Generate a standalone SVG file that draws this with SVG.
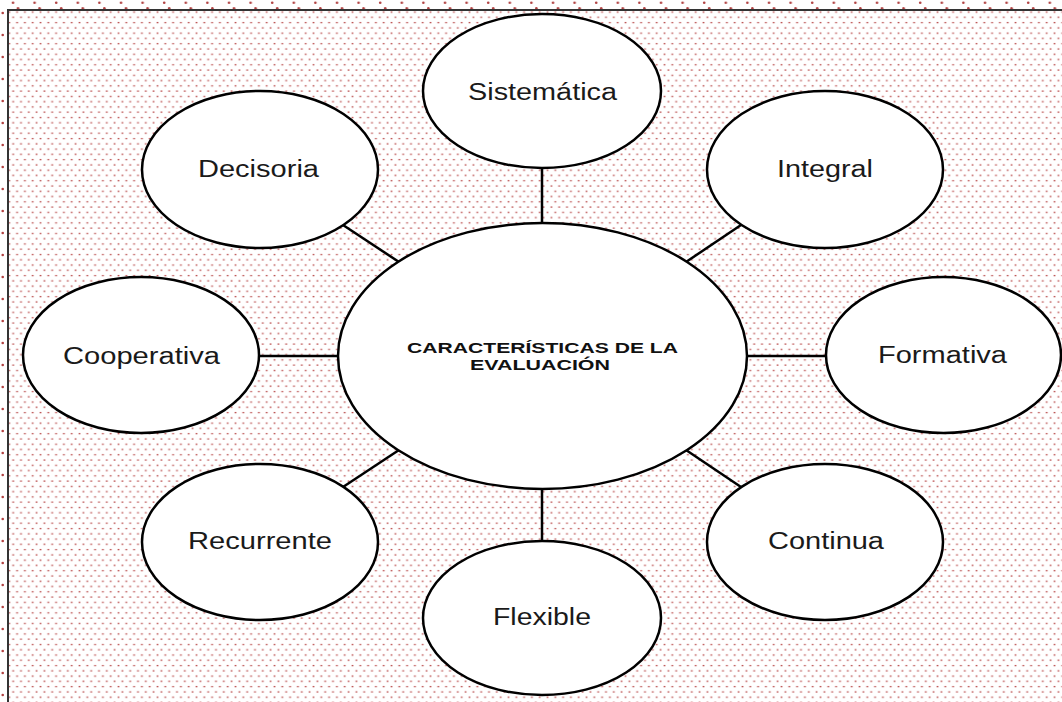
<svg xmlns="http://www.w3.org/2000/svg" width="1062" height="702" viewBox="0 0 1062 702">
<defs>
<pattern id="dotsIn" patternUnits="userSpaceOnUse" x="0" y="0" width="7.8" height="10.54">
<rect x="0.6" y="0.9" width="1.8" height="1.3" fill="#b03535" fill-opacity="0.85"/>
<rect x="4.5" y="6.17" width="1.8" height="1.3" fill="#b03535" fill-opacity="0.85"/>
</pattern>
<pattern id="dotsOut" patternUnits="userSpaceOnUse" x="0" y="0" width="21.6" height="22">
<circle cx="13" cy="2.7" r="1.3" fill="#b04040"/>
<circle cx="18" cy="8.3" r="1.3" fill="#b04040"/>
<circle cx="2.7" cy="13" r="1.3" fill="#b04040"/>
</pattern>
<style>
.node ellipse{fill:#ffffff;stroke:#000000;stroke-width:2.5}
.lbl{font-family:"Liberation Sans",Arial,sans-serif;font-size:23.5px;fill:#1a1a1a;text-anchor:middle}
.title{font-family:"Liberation Sans",Arial,sans-serif;font-size:14.8px;font-weight:bold;fill:#111111;text-anchor:middle}
#connectors line{stroke:#000000;stroke-width:2.5}
</style>
</defs>
<rect x="0" y="0" width="1062" height="702" fill="#ffffff"/>
<rect x="0" y="0" width="1062" height="702" fill="url(#dotsOut)"/>
<rect x="8" y="10" width="1070" height="710" fill="#ffffff"/>
<rect x="8" y="10" width="1070" height="710" fill="url(#dotsIn)" stroke="#333333" stroke-width="2"/>
<g id="connectors">
<line x1="542" y1="166" x2="542" y2="224"/>
<line x1="542" y1="488" x2="542" y2="541"/>
<line x1="258" y1="356" x2="339" y2="356"/>
<line x1="746" y1="356" x2="827" y2="356"/>
<line x1="343" y1="225" x2="399" y2="262"/>
<line x1="741" y1="225" x2="686" y2="262"/>
<line x1="399" y1="450" x2="343" y2="487"/>
<line x1="686" y1="450" x2="741" y2="487"/>
</g>
<g id="center" class="node">
<ellipse cx="542.5" cy="356" rx="204.5" ry="133"/>
<text class="title" x="542.5" y="352.5" textLength="271" lengthAdjust="spacingAndGlyphs">CARACTERÍSTICAS DE LA</text>
<text class="title" x="540" y="370" textLength="140" lengthAdjust="spacingAndGlyphs">EVALUACIÓN</text>
</g>
<g id="sistematica" class="node">
<ellipse cx="542" cy="91" rx="119" ry="77"/>
<text class="lbl" x="542.5" y="100" textLength="149" lengthAdjust="spacingAndGlyphs">Sistemática</text>
</g>
<g id="decisoria" class="node">
<ellipse cx="260" cy="169.5" rx="118" ry="78.5"/>
<text class="lbl" x="258.5" y="177" textLength="121" lengthAdjust="spacingAndGlyphs">Decisoria</text>
</g>
<g id="integral" class="node">
<ellipse cx="825" cy="169.5" rx="118" ry="78.5"/>
<text class="lbl" x="825" y="177" textLength="96" lengthAdjust="spacingAndGlyphs">Integral</text>
</g>
<g id="cooperativa" class="node">
<ellipse cx="141" cy="355" rx="118" ry="78"/>
<text class="lbl" x="141.5" y="364" textLength="157" lengthAdjust="spacingAndGlyphs">Cooperativa</text>
</g>
<g id="formativa" class="node">
<ellipse cx="943.5" cy="355" rx="117.5" ry="78"/>
<text class="lbl" x="942.5" y="363" textLength="129" lengthAdjust="spacingAndGlyphs">Formativa</text>
</g>
<g id="recurrente" class="node">
<ellipse cx="260" cy="542" rx="118" ry="78"/>
<text class="lbl" x="260" y="549" textLength="144" lengthAdjust="spacingAndGlyphs">Recurrente</text>
</g>
<g id="continua" class="node">
<ellipse cx="825" cy="542" rx="118" ry="78"/>
<text class="lbl" x="826" y="549" textLength="116" lengthAdjust="spacingAndGlyphs">Continua</text>
</g>
<g id="flexible" class="node">
<ellipse cx="542" cy="618" rx="119" ry="77"/>
<text class="lbl" x="542" y="625" textLength="98" lengthAdjust="spacingAndGlyphs">Flexible</text>
</g>
</svg>
